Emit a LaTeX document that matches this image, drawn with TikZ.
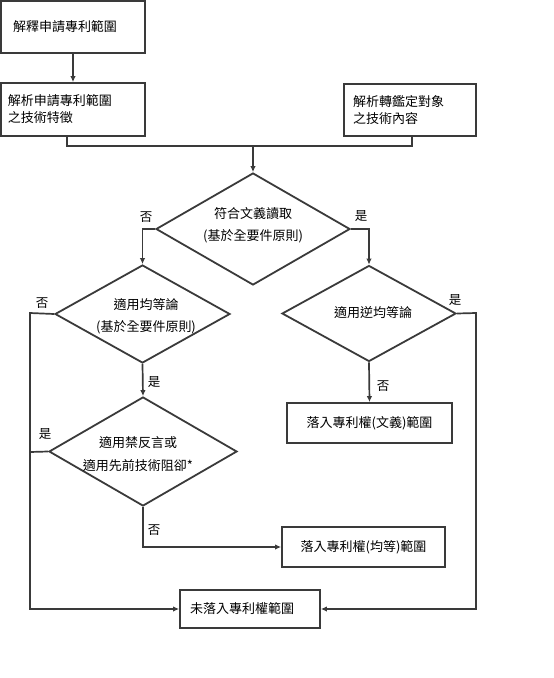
\documentclass[tikz,border=0pt]{standalone}
\usepackage{fontspec}
\newfontfamily\cjk{Noto Sans CJK TC}
\usetikzlibrary{shapes.geometric,arrows.meta,calc}
\definecolor{ln}{RGB}{58,58,58}
\begin{document}
\begin{tikzpicture}[x=1pt,y=-1pt,
  every node/.style={font=\cjk\fontsize{13}{17}\selectfont, text=black},
  box/.style={draw=ln, line width=1.8pt, rectangle, inner sep=0pt},
  dia/.style={draw=ln, line width=1.8pt, diamond, inner sep=0pt, aspect=1.75, align=center},
  conn/.style={draw=ln, line width=1.7pt},
  arr/.style={conn, -{Latex[length=6pt,width=5.5pt]}},
  lab/.style={inner sep=0pt, font=\cjk\fontsize{12.5}{14}\selectfont}]
\useasboundingbox (0,0) rectangle (554,678);

% boxes
\node[box, minimum width=144pt, minimum height=52pt, text width=120pt, align=left] (b1) at (73,27) {解釋申請專利範圍};
\node[box, minimum width=144pt, minimum height=53pt, text width=130pt, align=left] (b2) at (73,109.5) {解析申請專利範圍\\之技術特徵};
\node[box, minimum width=132pt, minimum height=52pt, text width=114pt, align=left] (b3) at (410,110) {\raisebox{-3.5pt}{\parbox[t]{114pt}{解析轉鑑定對象\\之技術內容}}};
\node[box, minimum width=165pt, minimum height=40pt, align=center] (bw) at (369.5,423) {落入專利權(文義)範圍};
\node[box, minimum width=163pt, minimum height=40pt, align=center] (be) at (363.5,547) {落入專利權(均等)範圍};
\node[box, minimum width=140pt, minimum height=38pt, text width=120pt, align=left] (bn) at (250,609) {未落入專利權範圍};

% diamonds
\node[dia, minimum width=194pt, minimum height=112pt] (d1) at (253,229) {};
\node[inner sep=0pt, align=center, font=\cjk\fontsize{13}{22}\selectfont] (t1) at (253,225) {符合文義讀取\\(基於全要件原則)};
\node[dia, minimum width=175pt, minimum height=98pt] (d2) at (142.5,314) {};
\node[inner sep=0pt, align=center, font=\cjk\fontsize{13}{22}\selectfont] (t2) at (146,316) {適用均等論\\(基於全要件原則)};
\node[dia, minimum width=174pt, minimum height=96pt] (d3) at (369,313.5) {};
\node[inner sep=0pt] (t3) at (373,313) {適用逆均等論};
\node[dia, minimum width=188pt, minimum height=109pt] (d4) at (143,451.5) {};
\node[inner sep=0pt, align=center, font=\cjk\fontsize{13}{23}\selectfont] (t4) at (138,454.5) {適用禁反言或\\適用先前技術阻卻*};

% junction coordinates
\coordinate (j) at (253,146);
\coordinate (jl) at (67,146);
\coordinate (jr) at (412,146);
\coordinate (lft) at (30,313);
\coordinate (lft4) at (30,452);
\coordinate (rgt) at (476,313);

% connectors
\draw[arr] (b1.south) -- (b2.north);
\draw[conn] (b2.south -| jl) -- (jl) -- (jr) -- (b3.south -| jr);
\draw[arr] (j) -- (d1.north);
\draw[arr] (d1.west) -| (d2.north);
\draw[arr] (d1.east) -| (d3.north);
\draw[arr] (d2.west) -- (lft) |- (bn.west);
\draw[arr] (d2.south) -- (d4.north);
\draw[arr] (d3.south) -- (bw.north);
\draw[arr] (d3.east) -- (rgt) |- (bn.east);
\draw[conn] (d4.west) -- (lft4);
\draw[arr] (d4.south) |- (be.west);

% labels
\node[lab] (l1) at (146,217) {否};
\node[lab] (l2) at (361,216) {是};
\node[lab] (l3) at (42,303) {否};
\node[lab] (l4) at (154,382) {是};
\node[lab] (l5) at (455,300) {是};
\node[lab] (l6) at (383,386) {否};
\node[lab] (l7) at (45,434) {是};
\node[lab] (l8) at (154,530) {否};
\end{tikzpicture}
\end{document}
